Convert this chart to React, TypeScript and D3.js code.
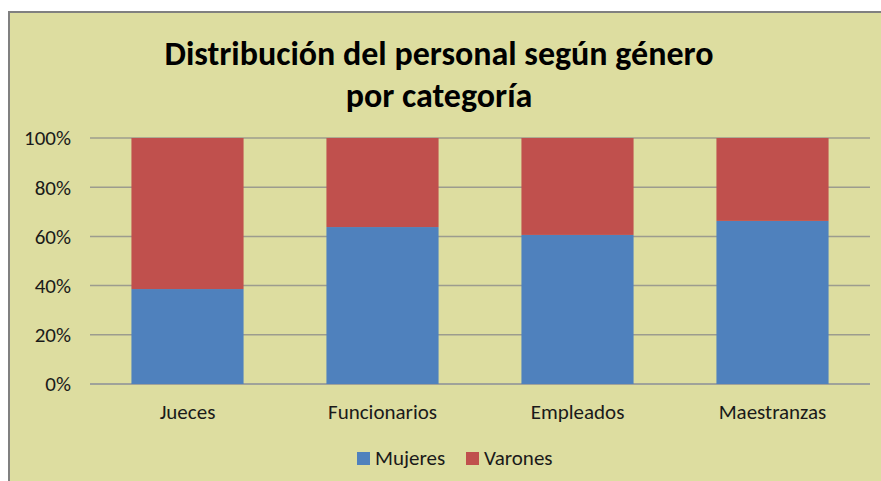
import React from "react";
import * as d3 from "d3";

// values (percent of staff per category)
const categories = ["Jueces", "Funcionarios", "Empleados", "Maestranzas"];
const mujeres = [38.6, 63.8, 60.6, 66.3];
const varones = [61.4, 36.2, 39.4, 33.7];
const seriesNames = ["Mujeres", "Varones"];
const seriesColors = ["#4F81BD", "#C0504D"];
const yTicks = [0, 20, 40, 60, 80, 100];

const W = 881;
const H = 481;
const FONT = "Carlito, Calibri, 'Open Sans', 'Noto Sans', sans-serif";

export default function App() {
  const plot = { left: 90, right: 870, top: 138, bottom: 384 };

  const rows = categories.map((c, i) => ({ cat: c, Mujeres: mujeres[i], Varones: varones[i] }));
  const stacked = d3.stack<any>().keys(seriesNames).offset(d3.stackOffsetExpand)(rows);

  const x = d3
    .scaleBand()
    .domain(categories)
    .range([plot.left, plot.right])
    .paddingInner(0.425)
    .paddingOuter(0.2125);
  const y = d3.scaleLinear().domain([0, 1]).range([plot.bottom, plot.top]);

  return (
    <div style={{ position: "absolute", left: 0, top: 0 }}>
      <svg width={W} height={H} style={{ display: "block", fontFamily: FONT }}>
        <rect x={0} y={0} width={W} height={H} fill="#ffffff" />
        {/* chart area with its border */}
        <rect x={9} y={12} width={W + 10} height={H + 10} fill="#DDDDA0" stroke="#808080" strokeWidth={2} />

        {/* title */}
        <text textAnchor="middle" fontWeight="bold" fontSize={34} fill="#000">
          <tspan x={439} y={65}>Distribución del personal según género</tspan>
          <tspan x={439} y={107}>por categoría</tspan>
        </text>

        {/* gridlines + y ticks */}
        {yTicks.map((t) => (
          <g key={t}>
            <line
              x1={plot.left}
              x2={plot.right}
              y1={y(t / 100)}
              y2={y(t / 100)}
              stroke={t === 0 ? "#8A8E98" : "#9C9C8E"}
              strokeWidth={1.5}
            />
            <text x={71} y={y(t / 100)} dy="0.35em" textAnchor="end" fontSize={21} fill="#1a1a1a">
              {t}%
            </text>
          </g>
        ))}

        {/* stacked bars */}
        {stacked.map((s, si) => (
          <g key={s.key} fill={seriesColors[si]}>
            {s.map((d, i) => (
              <rect
                key={i}
                x={x(categories[i])}
                width={x.bandwidth()}
                y={y(d[1])}
                height={y(d[0]) - y(d[1])}
              />
            ))}
          </g>
        ))}

        {/* category labels */}
        {categories.map((c) => (
          <text
            key={c}
            x={(x(c) as number) + x.bandwidth() / 2}
            y={419}
            textAnchor="middle"
            fontSize={21}
            fill="#1a1a1a"
          >
            {c}
          </text>
        ))}

        {/* legend */}
        {seriesNames.map((n, i) => {
          const lx = [357, 466][i];
          return (
            <g key={n}>
              <rect x={lx} y={452} width={13} height={13} fill={seriesColors[i]} />
              <text x={lx + 18} y={465} fontSize={21} fill="#1a1a1a">
                {n}
              </text>
            </g>
          );
        })}
      </svg>
    </div>
  );
}
